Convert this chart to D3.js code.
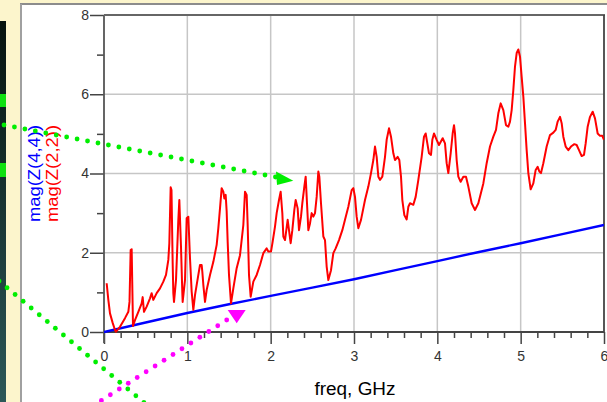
<!DOCTYPE html>
<html>
<head>
<meta charset="utf-8">
<script src="https://cdn.jsdelivr.net/npm/d3@7"></script>
<style>
  html, body { margin: 0; padding: 0; background: #fcf5cc; overflow: hidden; }
  svg { display: block; }
  text { font-family: "Liberation Sans", Arial, sans-serif; }
</style>
</head>
<body>
<svg id="chart" width="607" height="402"></svg>
<script>
// ---- data ----
const xMajorTicks = [0, 1, 2, 3, 4, 5, 6];
const yMajorTicks = [0, 2, 4, 6, 8];
const yMinorTicks = [1, 3, 5, 7];
const xLabel = "freq, GHz";
const seriesNames = ["mag(Z(4,4))", "mag(Z(2,2))"];

// mag(Z(4,4)) - blue
const blueFreq = [0, 0.5, 1, 1.5, 2, 2.5, 3, 3.5, 4, 4.5, 5, 5.5, 6];
const blueMag  = [0, 0.24, 0.48, 0.70, 0.91, 1.12, 1.33, 1.56, 1.79, 2.02, 2.24, 2.47, 2.70];

// mag(Z(2,2)) - red
const redFreq = [
  0.032,0.052,0.072,0.104,0.132,0.144,0.192,0.252,0.292,0.306,0.320,0.332,0.348,0.372,0.412,0.452,0.464,0.480,0.512,0.552,
  0.572,0.592,0.632,0.672,0.712,0.744,0.772,0.784,0.800,0.810,0.824,0.832,0.840,0.864,0.892,0.904,0.924,0.940,0.944,0.972,
  0.992,1.012,1.032,1.052,1.072,1.092,1.132,1.152,1.172,1.180,1.192,1.212,1.232,1.272,1.312,1.352,1.372,1.392,1.412,1.432,
  1.444,1.460,1.472,1.484,1.500,1.524,1.552,1.592,1.632,1.672,1.692,1.712,1.724,1.740,1.760,1.792,1.832,1.872,1.912,1.952,
  1.972,2.004,2.024,2.052,2.072,2.100,2.120,2.140,2.152,2.172,2.204,2.220,2.240,2.260,2.284,2.300,2.324,2.340,2.364,2.380,
  2.404,2.420,2.436,2.452,2.472,2.492,2.512,2.532,2.552,2.572,2.584,2.604,2.632,2.652,2.672,2.692,2.724,2.752,2.780,2.820,
  2.860,2.892,2.932,2.972,2.992,3.012,3.032,3.052,3.084,3.132,3.172,3.204,3.232,3.252,3.272,3.292,3.312,3.340,3.372,3.392,
  3.420,3.444,3.472,3.492,3.524,3.544,3.564,3.580,3.604,3.632,3.652,3.672,3.712,3.740,3.772,3.812,3.840,3.860,3.880,3.900,
  3.924,3.940,3.960,3.992,4.020,4.064,4.092,4.112,4.132,4.160,4.184,4.200,4.212,4.232,4.252,4.280,4.312,4.344,4.372,4.412,
  4.452,4.492,4.552,4.592,4.632,4.672,4.704,4.732,4.760,4.792,4.824,4.852,4.872,4.892,4.912,4.932,4.952,4.972,4.992,5.012,
  5.032,5.052,5.072,5.092,5.120,5.152,5.180,5.204,5.224,5.244,5.272,5.312,5.352,5.392,5.420,5.444,5.472,5.492,5.512,5.540,
  5.572,5.604,5.644,5.672,5.700,5.732,5.760,5.780,5.804,5.832,5.864,5.892,5.924,5.952,5.980,6.000
];
const redMag = [
  1.23,0.81,0.47,0.23,0.05,0.01,0.13,0.35,0.51,0.76,2.07,2.09,0.15,0.30,0.51,0.72,0.88,0.51,0.64,0.85,
  0.98,0.81,0.98,1.10,1.27,1.44,1.82,2.24,3.65,3.58,1.74,0.98,0.76,1.31,2.83,3.33,2.15,0.98,0.76,1.31,
  2.87,2.91,1.86,1.02,0.56,0.93,1.44,1.69,1.69,1.52,1.19,0.76,1.06,1.44,1.77,2.20,2.62,3.12,3.63,3.54,
  3.37,3.46,3.04,2.28,1.44,0.72,1.10,1.61,1.94,2.70,3.54,3.46,2.70,1.44,0.89,1.27,1.44,1.69,1.99,2.11,
  2.03,2.03,2.28,2.66,3.00,3.33,3.54,3.00,2.41,2.32,2.83,2.57,2.24,2.57,3.08,3.33,3.12,2.57,2.91,3.25,
  3.67,3.92,3.25,2.57,2.74,3.00,2.91,3.00,3.41,4.05,3.92,3.25,2.41,2.32,1.65,1.31,1.56,1.99,2.11,2.32,
  2.57,2.83,3.16,3.58,3.63,3.41,2.91,2.62,2.83,3.33,3.67,4.01,4.34,4.68,4.42,3.92,3.84,3.92,4.42,4.85,
  5.14,4.93,4.51,4.34,4.42,4.34,3.92,3.33,2.95,2.84,3.16,3.25,3.21,3.41,3.84,4.42,4.93,5.01,4.76,4.51,
  4.47,4.85,5.01,4.85,4.72,4.89,4.76,4.26,4.01,4.51,5.01,5.22,5.01,4.34,3.92,3.79,3.92,3.92,3.67,3.25,
  3.08,3.25,3.75,4.26,4.68,4.93,5.10,5.52,5.77,5.60,5.22,5.18,5.31,5.60,6.11,6.70,7.04,7.13,6.95,6.44,
  5.94,5.27,4.59,4.01,3.60,3.75,4.09,4.17,4.05,4.01,4.26,4.68,4.97,5.03,5.10,5.31,5.43,5.27,4.93,4.68,
  4.59,4.68,4.74,4.72,4.59,4.44,4.47,4.76,5.18,5.43,5.56,5.39,5.01,4.95,4.95,4.85
];

// ---- layout ----
const svg = d3.select("#chart");
const W = 607, H = 402;
const x = d3.scaleLinear().domain([0, 6]).range([104, 604]);
const y = d3.scaleLinear().domain([0, 8]).range([332, 15]);

// backgrounds
const defs = svg.append("defs");
const grad = defs.append("linearGradient").attr("id", "dark").attr("x1", 0).attr("y1", 0).attr("x2", 0).attr("y2", 1);
grad.append("stop").attr("offset", "0%").attr("stop-color", "#06120e");
grad.append("stop").attr("offset", "100%").attr("stop-color", "#2c5858");
defs.append("clipPath").attr("id", "plotclip").append("rect")
  .attr("x", 104).attr("y", 14).attr("width", 500).attr("height", 330);

svg.append("rect").attr("x", 0).attr("y", 0).attr("width", W).attr("height", H).attr("fill", "#fcf5cc");
svg.append("rect").attr("x", 0).attr("y", 21).attr("width", 6).attr("height", H - 21).attr("fill", "url(#dark)");
svg.append("rect").attr("x", 0).attr("y", 94).attr("width", 6).attr("height", 13).attr("fill", "#10e010");
svg.append("rect").attr("x", 0).attr("y", 163).attr("width", 6).attr("height", 14).attr("fill", "#10e010");
svg.append("rect").attr("x", 20).attr("y", 4).attr("width", W - 20).attr("height", H - 4).attr("fill", "#ffffff");
svg.append("line").attr("x1", 20).attr("x2", W).attr("y1", 4).attr("y2", 4).attr("stroke", "#8c8c8c").attr("stroke-width", 2);
svg.append("line").attr("x1", 21).attr("x2", 21).attr("y1", 4).attr("y2", H).attr("stroke", "#a0a0a0").attr("stroke-width", 2);

// gridlines
const grid = svg.append("g").attr("stroke", "#c6c6c6").attr("stroke-width", 1.5);
xMajorTicks.filter(d => d > 0 && d < 6).forEach(d => {
  grid.append("line").attr("x1", x(d)).attr("x2", x(d)).attr("y1", y(8)).attr("y2", y(0));
});
yMajorTicks.filter(d => d > 0 && d < 8).forEach(d => {
  grid.append("line").attr("x1", x(0)).attr("x2", x(6)).attr("y1", y(d)).attr("y2", y(d));
});

// axes
const tickFont = g => g.selectAll("text").attr("font-size", 14).attr("fill", "#333")
  .attr("font-family", "Liberation Sans, Arial, sans-serif");
const xMinor = d3.range(0, 30).map(i => i * 0.2).filter(d => Math.abs(d - Math.round(d)) > 1e-6);

svg.append("g").attr("transform", `translate(0,${y(0)})`)
  .call(d3.axisBottom(x).tickValues(xMinor).tickSize(6).tickFormat(""))
  .call(g => g.select(".domain").remove())
  .call(g => g.selectAll("line").attr("stroke", "#444").attr("stroke-width", 1.5));
svg.append("g").attr("transform", `translate(0,${y(0)})`)
  .call(d3.axisBottom(x).tickValues(xMajorTicks).tickSize(12).tickPadding(7).tickFormat(d3.format("d")))
  .call(g => g.select(".domain").remove())
  .call(g => g.selectAll("line").attr("stroke", "#444").attr("stroke-width", 1.5))
  .call(tickFont);

svg.append("g").attr("transform", `translate(${x(0)},0)`)
  .call(d3.axisLeft(y).tickValues(yMinorTicks).tickSize(7).tickFormat(""))
  .call(g => g.select(".domain").remove())
  .call(g => g.selectAll("line").attr("stroke", "#444").attr("stroke-width", 1.5));
svg.append("g").attr("transform", `translate(${x(0)},0)`)
  .call(d3.axisLeft(y).tickValues(yMajorTicks).tickSize(14).tickPadding(1).tickFormat(d3.format("d")))
  .call(g => g.select(".domain").remove())
  .call(g => g.selectAll("line").attr("stroke", "#444").attr("stroke-width", 1.5))
  .call(tickFont);

// frame
svg.append("line").attr("x1", x(0)).attr("x2", x(0)).attr("y1", y(8)).attr("y2", y(0) + 11)
  .attr("stroke", "#555").attr("stroke-width", 1.8);
svg.append("line").attr("x1", x(0)).attr("x2", x(6) + 1).attr("y1", y(8)).attr("y2", y(8))
  .attr("stroke", "#666").attr("stroke-width", 1.8);
svg.append("line").attr("x1", x(6)).attr("x2", x(6)).attr("y1", y(8)).attr("y2", y(0))
  .attr("stroke", "#444").attr("stroke-width", 1.8);
svg.append("line").attr("x1", x(0)).attr("x2", x(6)).attr("y1", y(0)).attr("y2", y(0))
  .attr("stroke", "#444").attr("stroke-width", 1.8);

// series
const line = d3.line().x(d => x(d[0])).y(d => y(d[1]));
const plot = svg.append("g").attr("clip-path", "url(#plotclip)");
plot.append("path").datum(blueFreq.map((f, i) => [f, blueMag[i]]))
  .attr("d", line).attr("fill", "none").attr("stroke", "#0000ff").attr("stroke-width", 2.4);
plot.append("path").datum(redFreq.map((f, i) => [f, redMag[i]]))
  .attr("d", line).attr("fill", "none").attr("stroke", "#ff0000").attr("stroke-width", 2)
  .attr("stroke-linejoin", "round");

// labels
svg.append("text").attr("x", 355).attr("y", 395).attr("text-anchor", "middle")
  .attr("font-size", 18).attr("fill", "#000").attr("textLength", 81).attr("lengthAdjust", "spacingAndGlyphs")
  .text(xLabel);
[["#0000ff", 40], ["#ff0000", 58]].forEach(([c, bx], i) => {
  svg.append("text").attr("transform", `translate(${bx},173.5) rotate(-90)`)
    .attr("text-anchor", "middle").attr("font-size", 16).attr("fill", c)
    .attr("textLength", 97).attr("lengthAdjust", "spacingAndGlyphs")
    .text(seriesNames[i]);
});

// annotation arrows (dotted)
function dotted(x0, y0, dx, dy, n, color) {
  for (let i = 0; i < n; i++) {
    svg.append("circle").attr("cx", x0 + dx * i).attr("cy", y0 + dy * i).attr("r", 2.4).attr("fill", color);
  }
}
dotted(4, 125, 10.44, 2.0, 27, "#00ee00");
svg.append("path").attr("d", "M276,171.5 L293.3,180.7 L277,185 Z").attr("fill", "#00ee00");
dotted(-1, 281, 8.05, 6.75, 20, "#00ee00");
dotted(226.7, 320, -8.95, 5.75, 16, "#ff00ff");
svg.append("path").attr("d", "M227.7,310 L245.7,310 L236.7,323.3 Z").attr("fill", "#ff00ff");
</script>
</body>
</html>
